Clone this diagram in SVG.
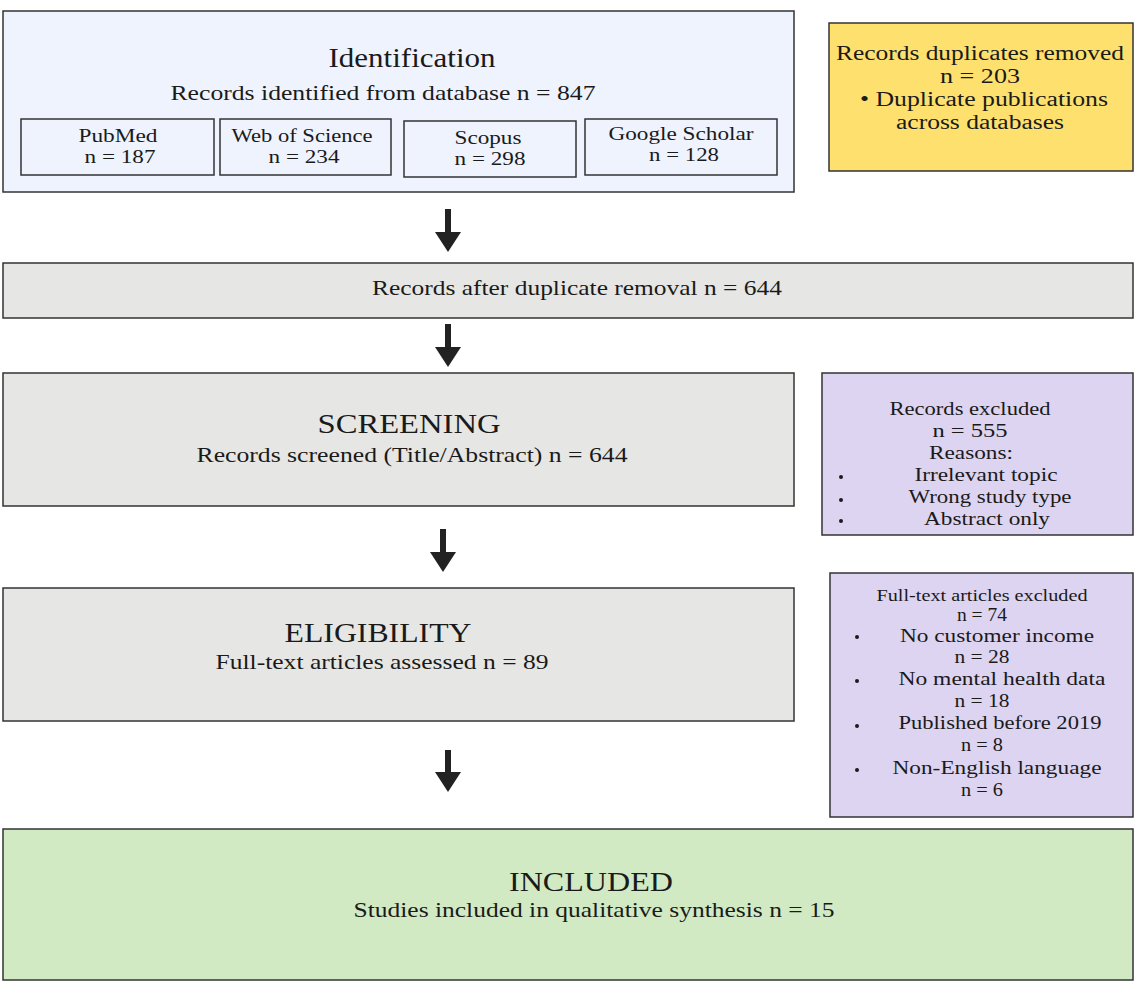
<svg xmlns="http://www.w3.org/2000/svg" width="1142" height="987" viewBox="0 0 1142 987">
<defs>
<style>
text{font-family:"Liberation Serif","Times New Roman",serif;fill:#1a1a1a;text-anchor:middle}
.box{stroke:#333;stroke-width:1.5}
.blue{fill:#eef3fd}
.yellow{fill:#fee06f}
.gray{fill:#e6e7e4}
.purple{fill:#ddd4f1}
.green{fill:#d1eac4}
.h{font-size:28px}
.b{font-size:22px}
.s{font-size:19px}
.y{font-size:20.5px}
.p{font-size:19px}
.q{font-size:18px}
.ps{font-size:16.5px}
.dot{fill:#1a1a1a}
.arrow{stroke:#222;stroke-width:6;fill:none}
.head{fill:#222}
</style>
</defs>
<rect x="0" y="0" width="1142" height="987" fill="#fff"/>

<g id="identification">
<rect class="box blue" x="3" y="11" width="791" height="181"/>
<text class="h" x="412" y="67" textLength="167" lengthAdjust="spacingAndGlyphs">Identification</text>
<text class="b" x="383" y="100" textLength="425" lengthAdjust="spacingAndGlyphs">Records identified from database n = 847</text>
</g>
<g id="pubmed">
<rect class="box blue" x="21" y="119" width="193" height="56"/>
<text class="s" x="118" y="142" textLength="79" lengthAdjust="spacingAndGlyphs">PubMed</text>
<text class="s" x="120" y="163" textLength="71" lengthAdjust="spacingAndGlyphs">n = 187</text>
</g>
<g id="wos">
<rect class="box blue" x="220" y="119" width="171" height="56"/>
<text class="s" x="302" y="142" textLength="141" lengthAdjust="spacingAndGlyphs">Web of Science</text>
<text class="s" x="304" y="163" textLength="71" lengthAdjust="spacingAndGlyphs">n = 234</text>
</g>
<g id="scopus">
<rect class="box blue" x="404" y="121" width="172" height="56"/>
<text class="s" x="488" y="144" textLength="67" lengthAdjust="spacingAndGlyphs">Scopus</text>
<text class="s" x="490" y="165" textLength="71" lengthAdjust="spacingAndGlyphs">n = 298</text>
</g>
<g id="scholar">
<rect class="box blue" x="585" y="119" width="192" height="56"/>
<text class="s" x="681" y="140" textLength="145" lengthAdjust="spacingAndGlyphs">Google Scholar</text>
<text class="s" x="684" y="161" textLength="70" lengthAdjust="spacingAndGlyphs">n = 128</text>
</g>

<g id="duplicates">
<rect class="box yellow" x="829" y="23" width="304" height="148"/>
<text class="y" x="980" y="60" textLength="288" lengthAdjust="spacingAndGlyphs">Records duplicates removed</text>
<text class="y" x="980" y="83" textLength="80" lengthAdjust="spacingAndGlyphs">n = 203</text>
<text class="y" x="984" y="106" textLength="248" lengthAdjust="spacingAndGlyphs">• Duplicate publications</text>
<text class="y" x="980" y="129" textLength="168" lengthAdjust="spacingAndGlyphs">across databases</text>
</g>

<g id="after-dup">
<rect class="box gray" x="3" y="263" width="1130" height="55"/>
<text class="b" x="577" y="295" textLength="410" lengthAdjust="spacingAndGlyphs">Records after duplicate removal n = 644</text>
</g>

<g id="screening">
<rect class="box gray" x="3" y="373" width="791" height="133"/>
<text class="h" x="409" y="433" textLength="183" lengthAdjust="spacingAndGlyphs">SCREENING</text>
<text class="b" x="412" y="462" textLength="431" lengthAdjust="spacingAndGlyphs">Records screened (Title/Abstract) n = 644</text>
</g>

<g id="excluded1">
<rect class="box purple" x="822" y="373" width="311" height="162"/>
<text class="p" x="970" y="415" textLength="161" lengthAdjust="spacingAndGlyphs">Records excluded</text>
<text class="p" x="970" y="437" textLength="75" lengthAdjust="spacingAndGlyphs">n = 555</text>
<text class="p" x="971" y="459" textLength="84" lengthAdjust="spacingAndGlyphs">Reasons:</text>
<circle class="dot" cx="841" cy="477" r="2"/>
<text class="p" x="986" y="481" textLength="143" lengthAdjust="spacingAndGlyphs">Irrelevant topic</text>
<circle class="dot" cx="841" cy="500" r="2"/>
<text class="p" x="990" y="503" textLength="163" lengthAdjust="spacingAndGlyphs">Wrong study type</text>
<circle class="dot" cx="841" cy="521" r="2"/>
<text class="p" x="987" y="525" textLength="126" lengthAdjust="spacingAndGlyphs">Abstract only</text>
</g>

<g id="eligibility">
<rect class="box gray" x="3" y="588" width="791" height="133"/>
<text class="h" x="378" y="642" textLength="187" lengthAdjust="spacingAndGlyphs">ELIGIBILITY</text>
<text class="b" x="382" y="669" textLength="333" lengthAdjust="spacingAndGlyphs">Full-text articles assessed n = 89</text>
</g>

<g id="excluded2">
<rect class="box purple" x="830" y="573" width="303" height="244"/>
<text class="ps" x="982" y="601" textLength="211" lengthAdjust="spacingAndGlyphs">Full-text articles excluded</text>
<text class="q" x="982" y="621" textLength="50" lengthAdjust="spacingAndGlyphs">n = 74</text>
<circle class="dot" cx="857" cy="637" r="2"/>
<text class="q" x="997" y="642" textLength="194" lengthAdjust="spacingAndGlyphs">No customer income</text>
<text class="q" x="982" y="663" textLength="55" lengthAdjust="spacingAndGlyphs">n = 28</text>
<circle class="dot" cx="857" cy="681" r="2"/>
<text class="q" x="1002" y="685" textLength="207" lengthAdjust="spacingAndGlyphs">No mental health data</text>
<text class="q" x="982" y="707" textLength="55" lengthAdjust="spacingAndGlyphs">n = 18</text>
<circle class="dot" cx="857" cy="726" r="2"/>
<text class="q" x="1000" y="729" textLength="203" lengthAdjust="spacingAndGlyphs">Published before 2019</text>
<text class="q" x="982" y="751" textLength="42" lengthAdjust="spacingAndGlyphs">n = 8</text>
<circle class="dot" cx="857" cy="770" r="2"/>
<text class="q" x="997" y="774" textLength="209" lengthAdjust="spacingAndGlyphs">Non-English language</text>
<text class="q" x="982" y="796" textLength="42" lengthAdjust="spacingAndGlyphs">n = 6</text>
</g>

<g id="included">
<rect class="box green" x="3" y="829" width="1130" height="151"/>
<text class="h" x="591" y="891" textLength="164" lengthAdjust="spacingAndGlyphs">INCLUDED</text>
<text class="b" x="594" y="917" textLength="481" lengthAdjust="spacingAndGlyphs">Studies included in qualitative synthesis n = 15</text>
</g>

<g id="connectors">
<line class="arrow" x1="448" y1="209" x2="448" y2="233"/>
<polygon class="head" points="435,232 461,232 448,252"/>
<line class="arrow" x1="448" y1="324" x2="448" y2="348"/>
<polygon class="head" points="435,347 461,347 448,367"/>
<line class="arrow" x1="443" y1="529" x2="443" y2="553"/>
<polygon class="head" points="430,552 456,552 443,572"/>
<line class="arrow" x1="448" y1="750" x2="448" y2="773"/>
<polygon class="head" points="435,772 461,772 448,792"/>
</g>
</svg>
